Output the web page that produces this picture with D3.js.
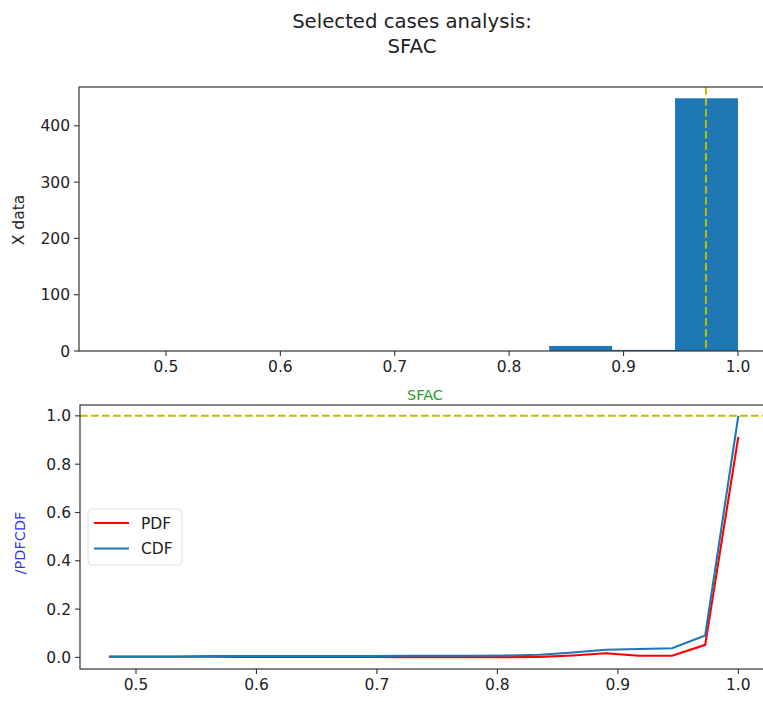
<!DOCTYPE html>
<html>
<head>
<meta charset="utf-8">
<script src="https://cdn.jsdelivr.net/npm/d3@7"></script>
<style>
  body { margin: 0; background: #fff; }
  svg text { font-family: "DejaVu Sans", sans-serif; fill: #222; }
</style>
</head>
<body>
<div id="chart"></div>
<script>
// histogram bins (SFAC) and counts
var binEdges = [0.45, 0.505, 0.56, 0.615, 0.67, 0.725, 0.78, 0.835, 0.89, 0.945, 1.0];
var binCounts = [0, 0, 0, 0, 0, 0, 0, 9, 2, 449];
var meanValue = 0.972;

// pdf / cdf sample points
var xPoints = [0.4775, 0.505, 0.5325, 0.56, 0.5875, 0.615, 0.6425, 0.67, 0.6975, 0.725,
               0.7525, 0.78, 0.8075, 0.835, 0.8625, 0.89, 0.9175, 0.945, 0.9725, 1.0];
var pdfValues = [0.003, 0.003, 0.003, 0.003, 0.002, 0.002, 0.002, 0.002, 0.002, 0.001,
                 0.001, 0.001, 0.001, 0.002, 0.008, 0.017, 0.007, 0.007, 0.052, 0.913];
var cdfValues = [0.004, 0.004, 0.004, 0.006, 0.006, 0.006, 0.006, 0.006, 0.006, 0.007,
                 0.007, 0.007, 0.008, 0.011, 0.020, 0.032, 0.035, 0.038, 0.091, 1.0];

var topXTicks = [0.5, 0.6, 0.7, 0.8, 0.9, 1.0];
var topYTicks = [0, 100, 200, 300, 400];
var botYTicks = [0.0, 0.2, 0.4, 0.6, 0.8, 1.0];

var W = 763, H = 702;
var svg = d3.select("#chart").append("svg").attr("width", W).attr("height", H);

var blue = "#1f77b4";
var fs = 15.5;

// title
svg.append("text").attr("x", 412).attr("y", 28).attr("text-anchor", "middle")
  .style("font-size", "19.7px").text("Selected cases analysis:");
svg.append("text").attr("x", 412).attr("y", 53).attr("text-anchor", "middle")
  .style("font-size", "19.7px").text("SFAC");

function drawAxes(g, x, y, xticks, yticks, yfmt, box) {
  // x ticks
  xticks.forEach(t => {
    g.append("line").attr("x1", x(t)).attr("x2", x(t)).attr("y1", box.bottom).attr("y2", box.bottom + 5)
      .attr("stroke", "#333").attr("stroke-width", 1.1);
    g.append("text").attr("x", x(t)).attr("y", box.bottom + 21).attr("text-anchor", "middle")
      .style("font-size", fs + "px").text(d3.format(".1f")(t));
  });
  yticks.forEach(t => {
    g.append("line").attr("x1", box.left - 5).attr("x2", box.left).attr("y1", y(t)).attr("y2", y(t))
      .attr("stroke", "#333").attr("stroke-width", 1.1);
    g.append("text").attr("x", box.left - 9).attr("y", y(t)).attr("dy", "0.36em").attr("text-anchor", "end")
      .style("font-size", fs + "px").text(yfmt(t));
  });
  // spines
  g.append("rect").attr("x", box.left).attr("y", box.top)
    .attr("width", box.right - box.left).attr("height", box.bottom - box.top)
    .attr("fill", "none").attr("stroke", "#333").attr("stroke-width", 1.2);
}

// ---- top: histogram ----
var topBox = {left: 79, right: 770, top: 87, bottom: 351};
var xTop = d3.scaleLinear().domain([0.424, 1.028]).range([topBox.left, topBox.right]);
var yTop = d3.scaleLinear().domain([0, 469]).range([topBox.bottom, topBox.top]);
var gTop = svg.append("g");

var bins = binCounts.map((c, i) => ({x0: binEdges[i], x1: binEdges[i + 1], n: c}));
gTop.selectAll("rect.bar").data(bins).join("rect").attr("class", "bar")
  .attr("x", d => xTop(d.x0)).attr("width", d => xTop(d.x1) - xTop(d.x0))
  .attr("y", d => yTop(d.n)).attr("height", d => yTop(0) - yTop(d.n))
  .attr("fill", blue);

gTop.append("line").attr("x1", xTop(meanValue)).attr("x2", xTop(meanValue))
  .attr("y1", topBox.top).attr("y2", topBox.bottom)
  .attr("stroke", "#bfbf00").attr("stroke-width", 2).attr("stroke-dasharray", "7.7,3.3");

drawAxes(gTop, xTop, yTop, topXTicks, topYTicks, d3.format("d"), topBox);

svg.append("text").attr("transform", "translate(24,220) rotate(-90)").attr("text-anchor", "middle")
  .style("font-size", fs + "px").text("X data");
svg.append("text").attr("x", 425).attr("y", 400).attr("text-anchor", "middle")
  .style("font-size", "14.5px").style("fill", "#2a9a2a").text("SFAC");

// ---- bottom: pdf / cdf ----
var botBox = {left: 80, right: 770, top: 405, bottom: 669};
var xBot = d3.scaleLinear().domain([0.4535, 1.0263]).range([botBox.left, botBox.right]);
var yBot = d3.scaleLinear().domain([-0.048, 1.045]).range([botBox.bottom, botBox.top]);
var gBot = svg.append("g");

gBot.append("line").attr("x1", botBox.left).attr("x2", W)
  .attr("y1", yBot(1.0)).attr("y2", yBot(1.0))
  .attr("stroke", "#bfbf00").attr("stroke-width", 2).attr("stroke-dasharray", "7.7,3.3");

var line = d3.line().x(d => xBot(d[0])).y(d => yBot(d[1]));
gBot.append("path").datum(xPoints.map((x, i) => [x, pdfValues[i]]))
  .attr("d", line).attr("fill", "none").attr("stroke", "red").attr("stroke-width", 2.1);
gBot.append("path").datum(xPoints.map((x, i) => [x, cdfValues[i]]))
  .attr("d", line).attr("fill", "none").attr("stroke", blue).attr("stroke-width", 2.1);

drawAxes(gBot, xBot, yBot, topXTicks, botYTicks, d3.format(".1f"), botBox);

svg.append("text").attr("transform", "translate(25,543) rotate(-90)").attr("text-anchor", "middle")
  .style("font-size", "14.5px").style("fill", "#3333ff").text("/PDFCDF");

// legend
var leg = svg.append("g").attr("transform", "translate(88,509)");
leg.append("rect").attr("width", 94).attr("height", 56).attr("rx", 4)
  .attr("fill", "#fff").attr("fill-opacity", 0.8).attr("stroke", "#ddd");
[["PDF", "red"], ["CDF", blue]].forEach((e, i) => {
  var yy = 14 + i * 25.5;
  leg.append("line").attr("x1", 6).attr("x2", 41).attr("y1", yy).attr("y2", yy)
    .attr("stroke", e[1]).attr("stroke-width", 2.1);
  leg.append("text").attr("x", 53).attr("y", yy).attr("dy", "0.36em")
    .style("font-size", fs + "px").text(e[0]);
});
</script>
</body>
</html>
